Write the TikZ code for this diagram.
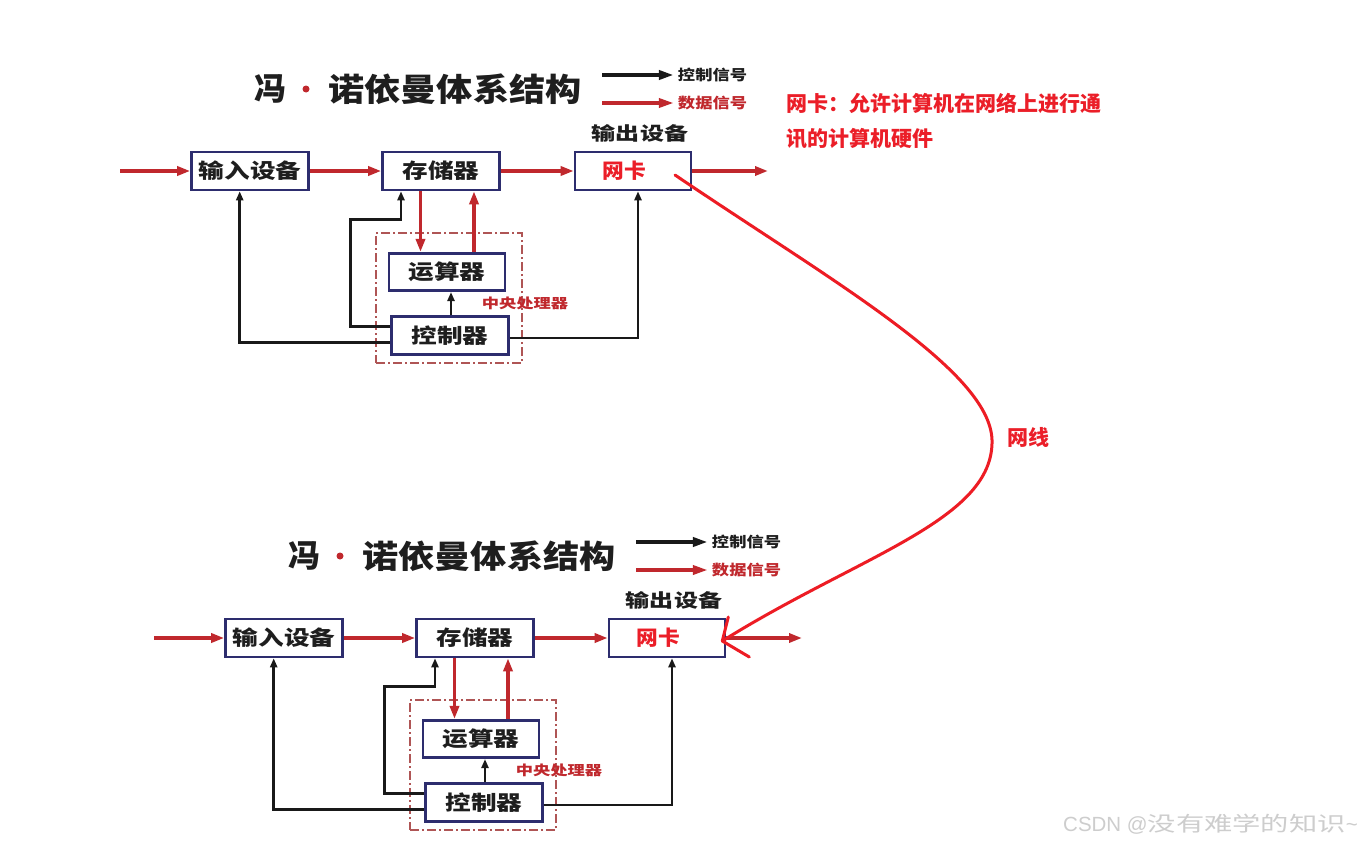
\documentclass[tikz,border=0pt]{standalone}
\usepackage{fontspec}
\setmainfont{Noto Sans CJK SC}
\newfontfamily\wmlatin{Liberation Sans}
\usetikzlibrary{arrows.meta,calc}
\definecolor{boxnavy}{RGB}{45,45,110}
\definecolor{datared}{RGB}{192,40,45}
\definecolor{annred}{RGB}{235,30,40}
\definecolor{curvered}{RGB}{237,28,36}
\definecolor{ctrlblack}{RGB}{25,25,25}
\definecolor{txtdark}{RGB}{30,30,30}
\definecolor{cpuframecol}{RGB}{175,85,85}
\definecolor{wmgray}{RGB}{205,205,205}
\newcommand\fsz[1]{\fontsize{#1pt}{#1pt}\selectfont}
\newcommand\sx[2]{\scalebox{#1}[1]{#2}}
\tikzset{
  unitbox/.style={draw=boxnavy, line width=2.6pt, fill=white, minimum width=117pt, minimum height=38pt, inner sep=0pt, font=\fsz{20.5}\bfseries, text=txtdark},
  data/.style={draw=datared, line width=3.4pt, -{Triangle[length=13pt,width=9pt]}},
  ctrl/.style={draw=ctrlblack, line width=2.5pt, -{Triangle[length=9pt,width=7pt]}},
  cpubox/.style={draw=cpuframecol, line width=1.3pt, dash pattern=on 9pt off 3pt on 2pt off 3pt, minimum width=146pt, minimum height=130pt, inner sep=0pt},
  titletext/.style={font=\fsz{32}\bfseries, text=txtdark, inner sep=0pt},
  reddot/.style={circle, fill=datared, inner sep=0pt, minimum size=7pt},
  legtext/.style={font=\fsz{14.5}\bfseries, inner sep=0pt},
  legctrl/.style={draw=ctrlblack, line width=4pt, -{Triangle[length=15pt,width=9pt]}, shorten >=4pt},
  legdata/.style={draw=datared, line width=3.5pt, -{Triangle[length=15pt,width=9pt]}, shorten >=4pt},
  nictext/.style={font=\fsz{20.5}\bfseries, text=annred, inner sep=0pt},
  outlabel/.style={font=\fsz{18.5}\bfseries, text=txtdark, inner sep=0pt},
  cpulabel/.style={font=\fsz{13.5}\bfseries, text=datared, inner sep=0pt},
  annot/.style={font=\fsz{21}\bfseries, text=annred, inner sep=0pt},
  wirecurve/.style={draw=curvered, line width=3pt, line cap=round, line join=round},
  wmtext/.style={font=\fsz{20.5}, text=wmgray, inner sep=0pt},
}
\newcommand\vnarch[1]{%
  \node[cpubox] (cpu#1) at (449,298) {};
  \node[titletext] (tA#1) at (270,89) {冯};
  \node[reddot] (dot#1) at (306,89) {};
  \node[titletext] (tB#1) at (455,89) {\sx{1.13}{诺依曼体系结构}};
  \node[legtext, text=txtdark] (lc#1) at (712.5,75) {\sx{1.19}{控制信号}};
  \node[legtext, text=datared] (ld#1) at (712.5,103) {\sx{1.19}{数据信号}};
  \coordinate (lcs#1) at (602,75);
  \coordinate (lds#1) at (602,103);
  \draw[legctrl] (lcs#1) -- (lc#1.west);
  \draw[legdata] (lds#1) -- (ld#1.west);
  \node[unitbox] (in#1) at (250,171) {\sx{1.25}{输入设备}};
  \node[unitbox] (mem#1) at (441,171) {\sx{1.25}{存储器}};
  \node[unitbox, minimum width=116pt] (nic#1) at (633,171) {};
  \node[nictext] (nict#1) at (624,171) {\sx{1.06}{网卡}};
  \node[unitbox, minimum width=116pt, minimum height=37.5pt] (alu#1) at (447,272) {\sx{1.25}{运算器}};
  \node[unitbox, minimum width=116.5pt, minimum height=37.5pt] (cu#1) at (450,335.5) {\sx{1.25}{控制器}};
  \node[outlabel] (out#1) at (640,133) {\sx{1.3}{输出设备}};
  \node[cpulabel] (cpul#1) at (525,303) {\sx{1.28}{中央处理器}};
  \coordinate (src#1) at (120,171);
  \coordinate (snk#1) at (768,171);
  \draw[data] (src#1) -- (in#1);
  \draw[data] (in#1) -- (mem#1);
  \draw[data] (mem#1) -- (nic#1);
  \draw[data] (nic#1) -- (snk#1);
  \draw[data] ([xshift=-20.5pt]mem#1.south) -- ([xshift=-20.5pt]mem#1.south |- alu#1.north);
  \draw[data] ([xshift=33pt]mem#1.south |- alu#1.north) -- ([xshift=33pt]mem#1.south);
  \draw[ctrl] ([xshift=4pt]alu#1.south |- cu#1.north) -- ([xshift=4pt]alu#1.south);
  \draw[ctrl] ([yshift=8.8pt]cu#1.west) -- ++(-40,0) |- ([xshift=-40pt,yshift=-28pt]mem#1.south) -- ([xshift=-40pt]mem#1.south);
  \draw[ctrl] ([yshift=-7.2pt]cu#1.west) -| ([xshift=-10.3pt]in#1.south);
  \draw[ctrl] ([yshift=-2.5pt]cu#1.east) -| ([xshift=5pt]nic#1.south);
}
\begin{document}
\begin{tikzpicture}[x=1pt,y=-1pt]
  \useasboundingbox[fill=white] (0,0) rectangle (1362,851);
  \vnarch{A}
  \begin{scope}[shift={(34,467)}]
    \vnarch{B}
  \end{scope}
  \node[annot, anchor=west] (note1) at (786.5,103) {网卡：允许计算机在网络上进行通};
  \node[annot, anchor=west] (note2) at (786.5,139) {讯的计算机硬件};
  \node[annot] (wire) at (1028,437) {网线};
  \coordinate (cstart) at ([xshift=42pt,yshift=-4pt]nicA.center);
  \coordinate (tip) at ([xshift=-4pt,yshift=-3pt]nicB.east);
  \draw[wirecurve] (cstart) .. controls (830,280) and (990,370) .. (992,440) .. controls (994,520) and (860,555) .. (tip);
  \draw[wirecurve] (tip) -- ++(6,-24);
  \draw[wirecurve] (tip) -- ++(27,16);
  \node[wmtext, anchor=east] (wm) at (1358,824) {{\wmlatin CSDN @}\sx{1.38}{没有难学的知识}{\wmlatin\textasciitilde}};
\end{tikzpicture}
\end{document}
